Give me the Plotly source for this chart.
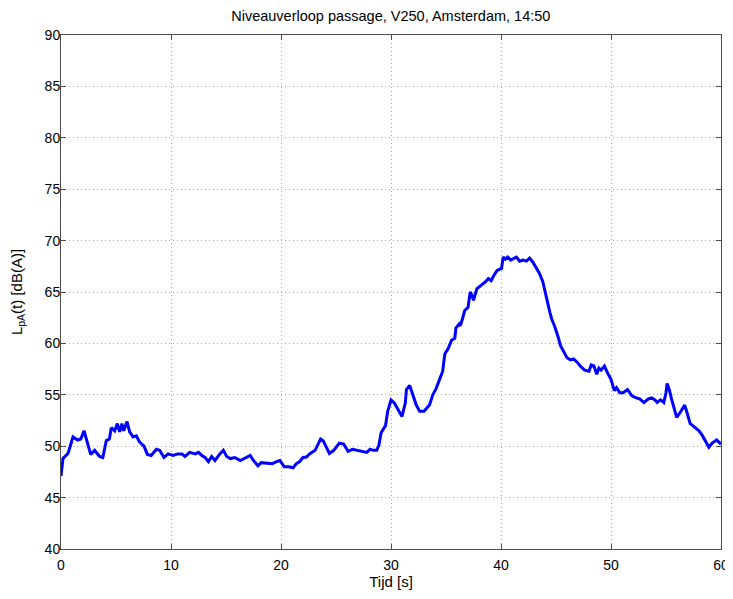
import plotly.graph_objects as go

time_s = [
    0.0, 0.18, 0.64, 1.09, 1.5, 1.8, 2.09, 2.4, 2.7, 3.06,
    3.5, 3.8, 4.12, 4.4, 4.57, 4.88, 5.12, 5.33, 5.54, 5.7,
    6.0, 6.24, 6.55, 6.85, 7.15, 7.55, 7.85, 8.2, 8.67, 8.97,
    9.36, 9.73, 10.2, 10.6, 11.0, 11.27, 11.7, 12.2, 12.5, 12.8,
    13.1, 13.4, 13.7, 14.0, 14.4, 14.76, 15.06, 15.4, 15.8, 16.3,
    16.7, 17.2, 17.5, 17.9, 18.2, 18.7, 19.2, 19.6, 19.9, 20.3,
    20.7, 21.1, 21.4, 21.7, 22.0, 22.3, 22.6, 23.1, 23.4, 23.6,
    23.85, 24.1, 24.4, 24.8, 25.1, 25.3, 25.7, 26.1, 26.5, 26.9,
    27.3, 27.8, 28.1, 28.4, 28.7, 28.9, 29.1, 29.5, 29.7, 30.0,
    30.3, 30.8, 31.0, 31.3, 31.4, 31.7, 31.9, 32.3, 32.6, 33.0,
    33.5, 33.8, 34.1, 34.4, 34.7, 34.8, 34.9, 35.2, 35.5, 35.8,
    35.9, 36.2, 36.3, 36.5, 36.7, 37.0, 37.2, 37.3, 37.5, 37.8,
    38.15, 38.4, 38.6, 38.85, 39.1, 39.35, 39.65, 40.05, 40.2, 40.4,
    40.6, 40.88, 41.1, 41.4, 41.7, 42.0, 42.3, 42.6, 42.9, 43.2,
    43.5, 43.8, 44.0, 44.2, 44.45, 44.6, 44.9, 45.2, 45.4, 45.7,
    46.0, 46.3, 46.6, 46.9, 47.2, 47.6, 48.0, 48.2, 48.45, 48.7,
    48.9, 49.1, 49.4, 49.7, 50.0, 50.3, 50.5, 50.8, 51.1, 51.5,
    51.9, 52.3, 52.6, 53.0, 53.4, 53.7, 54.0, 54.2, 54.5, 54.8,
    55.0, 55.1, 55.3, 55.5, 55.7, 55.97, 56.3, 56.7, 56.9, 57.2,
    57.6, 58.0, 58.3, 58.6, 58.9, 59.2, 59.6, 60.0,
]

level_dBA = [
    47.1, 48.8, 49.3, 50.9, 50.6, 50.7, 51.5, 50.4, 49.2, 49.6,
    49.0, 48.9, 50.55, 50.7, 51.8, 51.5, 52.2, 51.4, 52.2, 51.5,
    52.4, 51.4, 50.9, 51.0, 50.4, 50.0, 49.2, 49.1, 49.7, 49.6,
    48.9, 49.25, 49.1, 49.25, 49.25, 49.0, 49.4, 49.25, 49.4, 49.1,
    48.9, 48.5, 49.0, 48.6, 49.2, 49.6, 49.0, 48.8, 48.9, 48.6,
    48.8, 49.1, 48.6, 48.1, 48.4, 48.35, 48.3, 48.5, 48.6, 48.0,
    48.0, 47.9, 48.3, 48.5, 48.9, 48.95, 49.25, 49.6, 50.2, 50.7,
    50.5, 49.9, 49.3, 49.6, 50.1, 50.3, 50.2, 49.5, 49.7, 49.6,
    49.5, 49.4, 49.7, 49.6, 49.6, 50.1, 51.3, 52.0, 53.4, 54.5,
    54.2, 53.25, 52.9, 54.2, 55.5, 55.9, 55.2, 54.0, 53.4, 53.4,
    54.0, 55.0, 55.6, 56.5, 57.3, 58.2, 59.0, 59.5, 60.3, 60.5,
    61.5, 61.9, 61.7, 62.4, 63.2, 63.5, 65.0, 64.8, 64.2, 65.3,
    65.6, 65.8, 66.0, 66.3, 66.1, 66.6, 67.1, 67.3, 68.4, 68.2,
    68.4, 68.1, 68.2, 68.4, 68.0, 68.1, 68.0, 68.3, 67.9, 67.3,
    66.8, 66.0, 65.0, 64.0, 63.0, 62.4, 61.6, 60.6, 59.8, 59.2,
    58.6, 58.4, 58.5, 58.2, 57.8, 57.4, 57.3, 57.9, 57.8, 57.0,
    57.6, 57.4, 57.8, 57.1, 56.5, 55.4, 55.7, 55.2, 55.2, 55.5,
    54.9, 54.7, 54.6, 54.25, 54.6, 54.7, 54.5, 54.25, 54.5, 54.25,
    55.2, 56.1, 55.5, 54.6, 53.8, 52.8, 53.3, 54.0, 53.3, 52.2,
    51.85, 51.5, 51.05, 50.4, 49.9, 50.3, 50.6, 50.2,
]

x_ticks = [0, 10, 20, 30, 40, 50, 60]
y_ticks = [40, 45, 50, 55, 60, 65, 70, 75, 80, 85, 90]

title_text = "Niveauverloop passage, V250, Amsterdam, 14:50"
x_title = "Tijd [s]"
y_title = "L<sub>pA</sub>(t) [dB(A)]"

FONT = "Liberation Sans, Arial, sans-serif"

fig = go.Figure(
    go.Scatter(
        x=time_s,
        y=level_dBA,
        mode="lines",
        line=dict(color="#0000FF", width=3),
        showlegend=False,
    )
)

axis_common = dict(
    showline=True,
    linecolor="#4d4d4d",
    linewidth=1,
    mirror="ticks",
    ticks="inside",
    ticklen=5,
    tickcolor="#4d4d4d",
    showgrid=True,
    gridcolor="#a8a8a8",
    gridwidth=1,
    griddash="1px,3px",
    zeroline=False,
    automargin=False,
    tickfont=dict(family=FONT, size=14, color="black"),
)

# The page body adds an 8px offset; figure size and margins compensate for it.
fig.update_layout(
    width=725,
    height=591,
    margin=dict(l=53, r=12, t=27, b=50),
    paper_bgcolor="white",
    plot_bgcolor="white",
    title=dict(
        text=title_text,
        x=0.528,
        xanchor="center",
        y=0.9865,
        yanchor="middle",
        font=dict(family=FONT, size=14.5, color="black"),
    ),
    xaxis=dict(
        range=[0, 60],
        tickvals=x_ticks,
        ticklabelstandoff=3,
        title=dict(text=x_title, font=dict(family=FONT, size=15, color="black"), standoff=2),
        **axis_common,
    ),
    yaxis=dict(
        range=[40, 90],
        tickvals=y_ticks,
        ticklabelstandoff=-3,
        title=dict(text=y_title, font=dict(family=FONT, size=15, color="black"), standoff=24),
        **axis_common,
    ),
)

fig.write_html("out.html")
